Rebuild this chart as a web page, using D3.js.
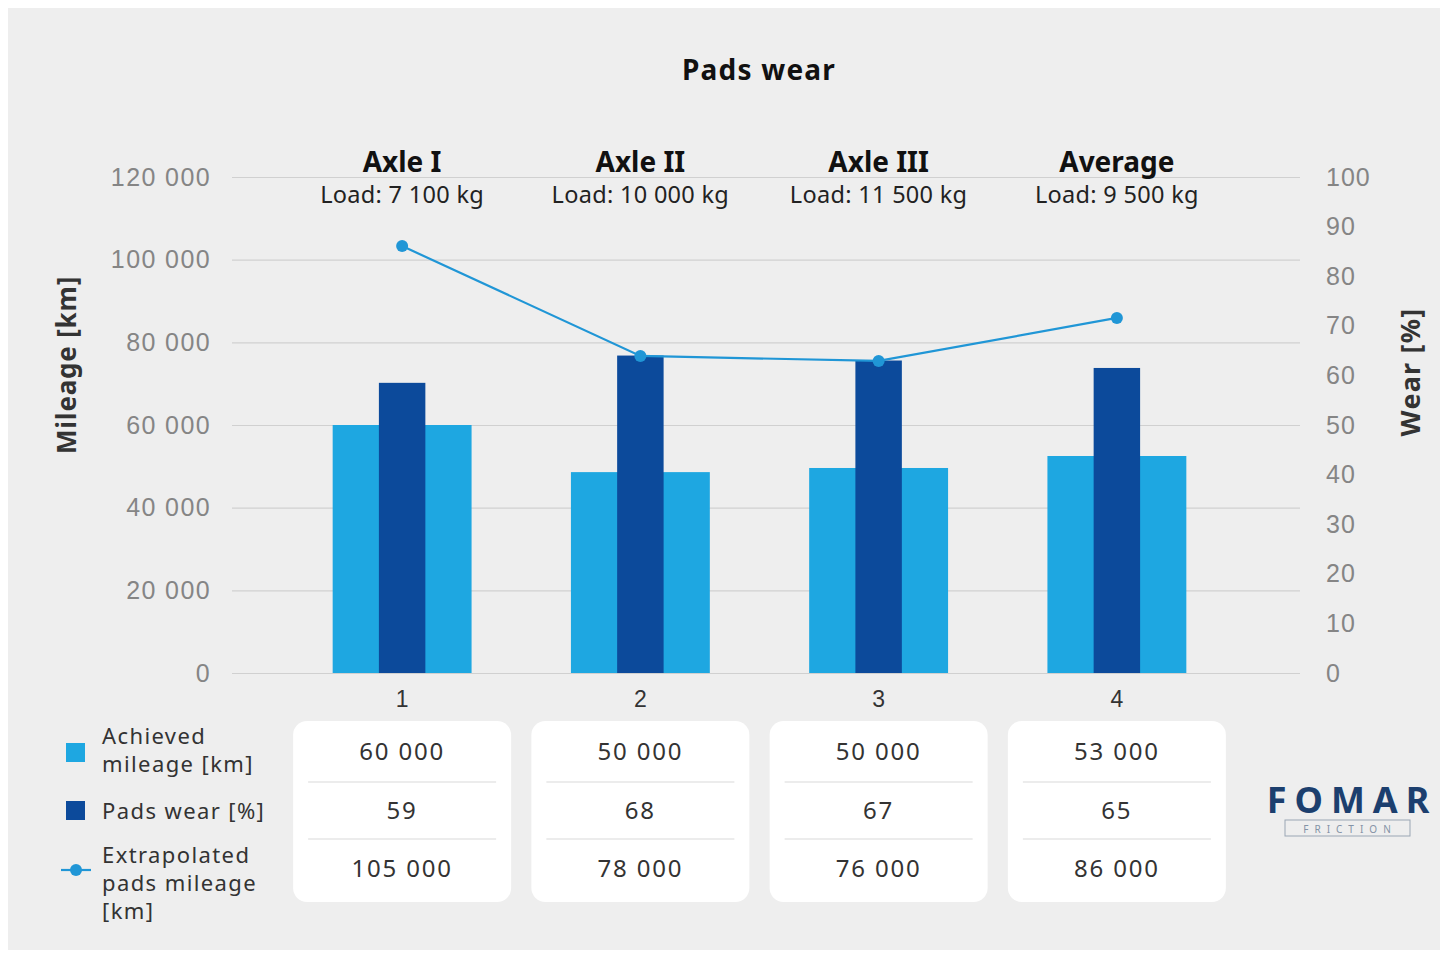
<!DOCTYPE html>
<html>
<head>
<meta charset="utf-8">
<script src="https://cdn.jsdelivr.net/npm/d3@7"></script>
<style>
  body{margin:0;background:#fff;}
  svg{display:block;font-family:"Noto Sans",sans-serif;}
</style>
</head>
<body>
<svg id="chart" width="1447" height="954"></svg>
<script>
// data
const categories=["1","2","3","4"];
const axleNames=["Axle I","Axle II","Axle III","Average"];
const axleLoads=[7100,10000,11500,9500];
const achievedMileage=[60000,48600,49600,52500];
const padsWear=[58.5,64,63,61.5];
const extrapolatedMileage=[103300,76700,75500,85900];
const tableMileage=[60000,50000,50000,53000];
const tableWear=[59,68,67,65];
const tableExtrapolated=[105000,78000,76000,86000];
const leftTicks=[0,20000,40000,60000,80000,100000,120000];
const rightTicks=[0,10,20,30,40,50,60,70,80,90,100];
const legendLabels=[["Achieved","mileage [km]"],["Pads wear [%]"],["Extrapolated","pads mileage","[km]"]];

const lightBlue="#1ea7e1", darkBlue="#0c4a9b", lineBlue="#2096d6";
const fmt=d3.formatLocale({decimal:".",thousands:" ",grouping:[3],currency:["",""]}).format(",d");

const svg=d3.select("#chart");

// panel
svg.append("rect").attr("x",8).attr("y",8).attr("width",1432).attr("height",942).attr("fill","#eeeeee");

const x=d3.scaleBand().domain(categories).range([283,1236]).padding(0);
const yL=d3.scaleLinear().domain([0,120000]).range([673,177]);
const yR=d3.scaleLinear().domain([0,100]).range([673,177]);
const bw=x.bandwidth();
const cx=c=>x(c)+bw/2;

// left axis + grid
const gL=svg.append("g").attr("transform","translate(232,0)")
  .call(d3.axisLeft(yL).tickValues(leftTicks).tickSize(-(1300-232)).tickPadding(21).tickFormat(fmt));
gL.select(".domain").remove();
gL.selectAll(".tick line").attr("stroke","#d0d0d0").attr("stroke-width",1.2);
gL.selectAll(".tick text").attr("fill","#858585").attr("font-size",25).attr("letter-spacing",1.4);

// right axis
const gR=svg.append("g").attr("transform","translate(1326,0)")
  .call(d3.axisRight(yR).tickValues(rightTicks).tickSize(0).tickPadding(0));
gR.select(".domain").remove();
gR.selectAll(".tick text").attr("fill","#858585").attr("font-size",25).attr("letter-spacing",1);

// bottom axis
const gB=svg.append("g").attr("transform","translate(0,673)")
  .call(d3.axisBottom(x).tickSize(0).tickPadding(18));
gB.select(".domain").remove();
gB.selectAll(".tick text").attr("fill","#333").attr("font-size",23);

// axis titles
svg.append("text").attr("transform","translate(76,365) rotate(-90)")
  .attr("text-anchor","middle").attr("font-size",26).attr("font-weight","bold")
  .attr("letter-spacing",0.8).attr("fill","#333").text("Mileage [km]");
svg.append("text").attr("transform","translate(1420,372) rotate(-90)")
  .attr("text-anchor","middle").attr("font-size",27).attr("font-weight","bold")
  .attr("letter-spacing",1.2).attr("fill","#333").text("Wear [%]");

// title
svg.append("text").attr("x",759).attr("y",80).attr("text-anchor","middle")
  .attr("font-size",28).attr("font-weight","bold").attr("letter-spacing",1.2)
  .attr("fill","#111").text("Pads wear");

// group headers
svg.selectAll(".axle").data(categories).join("text").attr("class","axle")
  .attr("x",cx).attr("y",172).attr("text-anchor","middle")
  .attr("font-size",28).attr("font-weight","bold").attr("fill","#111")
  .text((d,i)=>axleNames[i]);
svg.selectAll(".load").data(categories).join("text").attr("class","load")
  .attr("x",cx).attr("y",203).attr("text-anchor","middle")
  .attr("font-size",23.5).attr("letter-spacing",0.3).attr("fill","#222")
  .text((d,i)=>"Load: "+fmt(axleLoads[i])+" kg");

// bars
const lightW=bw*0.583, darkW=bw*0.195;
svg.selectAll(".bar-m").data(categories).join("rect").attr("class","bar-m")
  .attr("x",d=>cx(d)-lightW/2).attr("width",lightW)
  .attr("y",(d,i)=>yL(achievedMileage[i])).attr("height",(d,i)=>yL(0)-yL(achievedMileage[i]))
  .attr("fill",lightBlue);
svg.selectAll(".bar-w").data(categories).join("rect").attr("class","bar-w")
  .attr("x",d=>cx(d)-darkW/2).attr("width",darkW)
  .attr("y",(d,i)=>yR(padsWear[i])).attr("height",(d,i)=>yR(0)-yR(padsWear[i]))
  .attr("fill",darkBlue);

// extrapolated line
const line=d3.line().x(d=>cx(d.c)).y(d=>yL(d.v));
const pts=categories.map((c,i)=>({c,v:extrapolatedMileage[i]}));
svg.append("path").datum(pts).attr("d",line).attr("fill","none")
  .attr("stroke",lineBlue).attr("stroke-width",2.2);
svg.selectAll(".pt").data(pts).join("circle").attr("class","pt")
  .attr("cx",d=>cx(d.c)).attr("cy",d=>yL(d.v)).attr("r",6).attr("fill",lineBlue);

// table cards
const rowY=[760,819,877];
const rows=[tableMileage,tableWear,tableExtrapolated];
const cards=svg.selectAll(".card").data(categories).join("g").attr("class","card");
cards.append("rect").attr("x",d=>cx(d)-109).attr("y",721).attr("width",218).attr("height",181)
  .attr("rx",14).attr("fill","#ffffff");
[782,839].forEach(ly=>{
  cards.append("line").attr("x1",d=>cx(d)-94).attr("x2",d=>cx(d)+94)
    .attr("y1",ly).attr("y2",ly).attr("stroke","#d9d9d9").attr("stroke-width",1.2);
});
rows.forEach((row,r)=>{
  cards.append("text").attr("x",d=>cx(d)).attr("y",rowY[r]).attr("text-anchor","middle")
    .attr("font-size",24).attr("letter-spacing",1.8).attr("fill","#333")
    .text((d,i)=>fmt(row[i]));
});

// legend
const legendLineY=[[744,772],[819],[863,891,919]];
legendLabels.forEach((lines,k)=>{
  const t=svg.append("text").attr("font-size",22).attr("letter-spacing",1.4).attr("fill","#333");
  lines.forEach((s,j)=>t.append("tspan").attr("x",102).attr("y",legendLineY[k][j]).text(s));
});
svg.append("rect").attr("x",66).attr("y",743).attr("width",19).attr("height",19).attr("fill",lightBlue);
svg.append("rect").attr("x",66).attr("y",801).attr("width",19).attr("height",19).attr("fill",darkBlue);
svg.append("line").attr("x1",61).attr("x2",91).attr("y1",870).attr("y2",870)
  .attr("stroke",lineBlue).attr("stroke-width",2.2);
svg.append("circle").attr("cx",76).attr("cy",870).attr("r",6).attr("fill",lineBlue);

// logo
svg.append("text").attr("x",1352).attr("y",813).attr("text-anchor","middle")
  .attr("font-size",36).attr("font-weight","bold").attr("letter-spacing",8)
  .attr("fill","#1c3f6e").text("FOMAR");
svg.append("rect").attr("x",1285).attr("y",820).attr("width",125).attr("height",16)
  .attr("fill","none").attr("stroke","#9aa6b4").attr("stroke-width",1);
svg.append("text").attr("x",1350).attr("y",832.5).attr("text-anchor","middle")
  .attr("font-size",10).attr("letter-spacing",6).attr("fill","#8493a6").text("FRICTION");
</script>
</body>
</html>
